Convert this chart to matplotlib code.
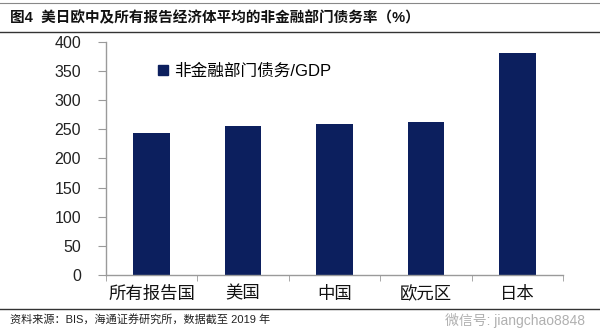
import matplotlib
matplotlib.use("Agg")
import matplotlib.pyplot as plt
from matplotlib.lines import Line2D
from matplotlib.patches import Patch
import numpy as np

plt.rcParams['font.family'] = ['Liberation Sans', 'Noto Sans CJK SC', 'DejaVu Sans']

# data
categories = ["所有报告国", "美国", "中国", "欧元区", "日本"]
debt_ratio = [244, 255, 259, 263, 381]
yticks = [0, 50, 100, 150, 200, 250, 300, 350, 400]
series_name = "非金融部门债务/GDP"
title = "图4  美日欧中及所有报告经济体平均的非金融部门债务率（%）"
source = "资料来源：BIS，海通证券研究所，数据截至 2019 年"
watermark = "微信号: jiangchao8848"

bar_color = "#0c1f5e"
axis_color = "#9a9a9a"

fig = plt.figure(figsize=(6, 3.3), dpi=100)
ax = fig.add_axes([0.1767, 0.1667, 0.7616, 0.7069])

x = np.arange(len(categories))
ax.bar(x, debt_ratio, width=0.4, color=bar_color, zorder=2)

ax.set_xlim(-0.5, len(categories) - 0.5)
ax.set_ylim(0, 400)
ax.set_yticks(yticks)
ax.set_xticks(x)
ax.set_xticklabels(categories, fontsize=12.5, family=['Noto Sans CJK SC'])
ax.set_xticks(np.arange(len(categories) + 1) - 0.5, minor=True)

for side in ["top", "right"]:
    ax.spines[side].set_visible(False)
for side in ["left", "bottom"]:
    ax.spines[side].set_color(axis_color)
    ax.spines[side].set_linewidth(1.0)

ax.tick_params(axis="y", length=6, color=axis_color, labelsize=11.5, pad=12,
               labelcolor="#222222")
ax.tick_params(axis="x", which="major", length=0, pad=7, labelcolor="#111111")
ax.tick_params(axis="x", which="minor", length=4, color=axis_color)

leg = ax.legend(handles=[Patch(color=bar_color, label=series_name)],
                loc="upper left", bbox_to_anchor=(0.08, 0.97), frameon=False,
                handlelength=0.6, handleheight=0.6, handletextpad=0.4,
                prop={'family': ['Liberation Sans', 'Noto Sans CJK SC'], 'size': 12})

# header / footer rules
fig.add_artist(Line2D([0, 1], [0.991, 0.991], color="#888888", lw=0.8))
fig.add_artist(Line2D([0, 1], [0.903, 0.903], color="#333333", lw=1.0))
fig.add_artist(Line2D([0, 1], [0.064, 0.064], color="#333333", lw=1.0))

fig.text(0.017, 0.945, title, fontsize=10.5, fontweight="bold", va="center",
         ha="left", color="#111111")
fig.text(0.017, 0.030, source, fontsize=8, va="center", ha="left",
         color="#222222")
# watermark kept in the footer row so it does not cover the category labels
fig.text(0.975, 0.030, watermark, fontsize=10, va="center", ha="right",
         color="#b0b0b0")

fig.savefig("out.png", dpi=100)
